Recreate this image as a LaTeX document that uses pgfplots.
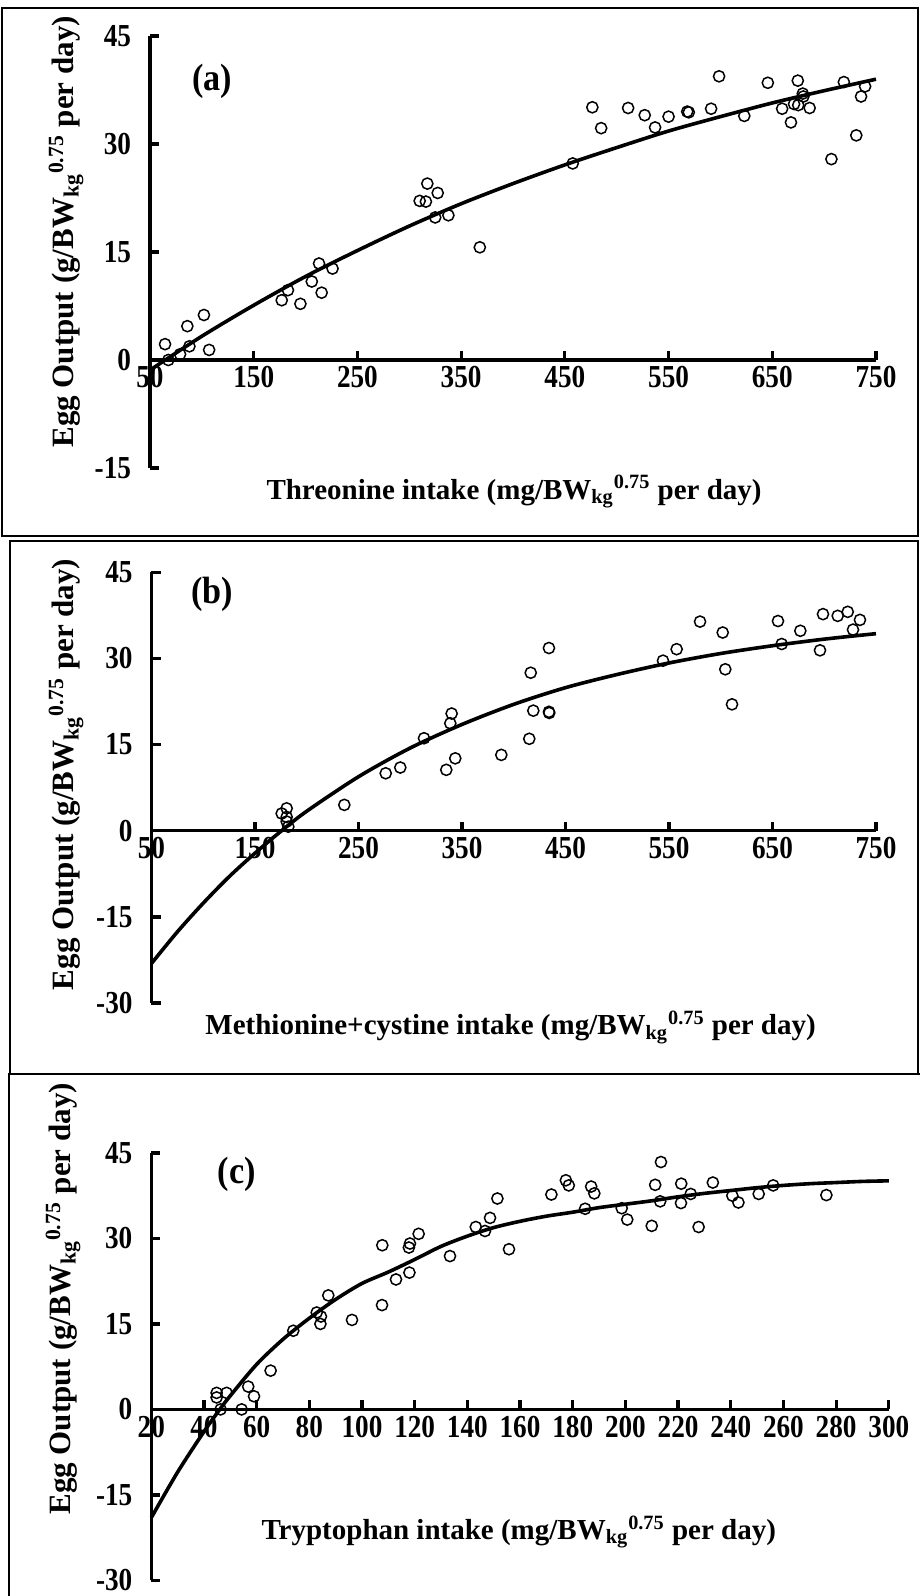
\documentclass[border=0pt]{standalone}
\usepackage{fontspec}
\setmainfont{Liberation Serif}
\newfontfamily\tickfont{Liberation Serif}[FakeStretch=0.85]
\newfontfamily\tagfont{Liberation Serif}[FakeStretch=0.9]
\usepackage{pgfplots}
\pgfplotsset{compat=1.18}
\pgfplotsset{panel/.style={
  scale only axis, clip=false,
  axis x line=middle, axis y line=left,
  axis line style={-, line width=1.6pt},
  every tick/.style={black, line width=1.6pt},
  major tick length=4.5pt,
  tick align=inside,
  hide obscured x ticks=false, hide obscured y ticks=false,
  /pgf/number format/assume math mode=true,
  every tick label/.append style={font=\tickfont\bfseries\fontsize{16}{16}\selectfont},
  yticklabel style={inner sep=1pt, xshift=-8.3pt},
  xticklabel style={inner sep=1pt, yshift=-2pt},
},
pts/.style={only marks, mark=o, mark size=2.8pt, mark options={line width=0.75pt, black}},
fit/.style={no marks, black, line width=1.8pt, smooth}
}
\newcommand{\ylab}{Egg Output (g/BW\textsubscript{kg}\textsuperscript{0.75} per day)}
\begin{document}
\begin{tikzpicture}
\useasboundingbox (0,0) rectangle (460pt,798pt);
% frames
\draw[line width=1pt] (1pt,794pt) rectangle (459pt,530pt);
\draw[line width=1pt] (5pt,527.5pt) rectangle (459pt,261pt);
\draw[line width=1pt] (4.5pt,0pt) -- (4.5pt,261pt) -- (460pt,261pt);
% ---------------- (a)
\begin{axis}[panel, at={(75pt,564pt)}, anchor=south west,
  width=363pt, height=216pt,
  xmin=50, xmax=750, ymin=-15, ymax=45,
  xtick={50,150,...,750}, ytick={-15,0,15,30,45}]
\addplot[pts] coordinates {
(64.5,2.2) (67.7,0.0) (79,0.8) (86,4.7) (88,1.9) (102,6.25) (107,1.4)
(177,8.3) (183,9.7) (195,7.8) (206,10.9) (213,13.4) (215.5,9.35) (226,12.7)
(310,22.1) (316,22.0) (317.4,24.5) (327.4,23.2) (325,19.8) (337.7,20.1) (368,15.65)
(457.6,27.3) (476.5,35.1) (485,32.2) (511,35.0) (527,34.0) (537,32.3) (550,33.8)
(568,34.5) (569.5,34.4) (591,34.9) (598.7,39.4) (623,33.9) (645.7,38.5) (659.5,34.9)
(668,33.0) (674.6,38.8) (671,35.55) (675,35.4) (679.4,37.0) (680,36.6) (686,35.0)
(707,27.9) (719,38.6) (731,31.2) (735.6,36.6) (739.5,38.0)
};
\addplot[fit] coordinates {
(50,-1.4) (100,3.3) (150,7.6) (200,11.6) (250,15.2) (300,18.6) (350,21.7)
(400,24.5) (450,27.1) (500,29.5) (550,31.8) (600,33.8) (650,35.7) (700,37.4) (750,39.0)
};
\node[font=\tagfont\bfseries\fontsize{19}{19}\selectfont] at (axis cs:110,38.7) {(a)};
\node[font=\bfseries\fontsize{14.5}{14.5}\selectfont] at (axis cs:401,-18.3) {Threonine intake (mg/BW\textsubscript{kg}\textsuperscript{0.75} per day)};
\node[rotate=90, font=\bfseries\fontsize{15.5}{15.5}\selectfont] at (axis cs:-31,17.8) {\ylab};
\end{axis}
% ---------------- (b)
\begin{axis}[panel, at={(75.75pt,296.45pt)}, anchor=south west,
  width=362.25pt, height=215.45pt,
  xmin=50, xmax=750, ymin=-30, ymax=45,
  xtick={50,150,...,750}, ytick={-30,-15,0,15,30,45}]
\addplot[pts] coordinates {
(175.8,3.0) (180.6,3.9) (180.6,2.4) (180.6,1.6) (182.2,0.7) (236.3,4.5)
(276.3,10.0) (290.4,11.0) (313.3,16.1) (334.8,10.6) (340,20.4) (338.7,18.7) (343.5,12.6)
(388,13.2) (415,16.0) (416.4,27.5) (418.9,20.9) (434,31.8) (434,20.7) (434.3,20.5)
(544.2,29.6) (557.4,31.6) (580,36.4) (601.9,34.5) (604.4,28.1) (610.9,22.0)
(655.3,36.5) (658.9,32.5) (676.9,34.8) (695.9,31.4) (698.8,37.7) (713,37.4)
(722.7,38.1) (727.8,35.0) (734.5,36.7)
};
\addplot[fit] coordinates {
(50,-23.1) (75,-17.6) (100,-12.6) (125,-8.0) (150,-3.9) (175,-0.1) (200,3.4)
(250,9.4) (300,14.4) (350,18.5) (400,22.0) (450,24.9) (500,27.2) (550,29.2)
(600,30.85) (650,32.2) (700,33.35) (750,34.3)
};
\node[font=\tagfont\bfseries\fontsize{19}{19}\selectfont] at (axis cs:108.5,41.2) {(b)};
\node[font=\bfseries\fontsize{14.5}{14.5}\selectfont] at (axis cs:397,-34.2) {Methionine+cystine intake (mg/BW\textsubscript{kg}\textsuperscript{0.75} per day)};
\node[rotate=90, font=\bfseries\fontsize{15.5}{15.5}\selectfont] at (axis cs:-32.6,9.8) {\ylab};
\end{axis}
% ---------------- (c)
\begin{axis}[panel, at={(75.65pt,7.8pt)}, anchor=south west,
  width=368.75pt, height=213.75pt,
  xmin=20, xmax=300, ymin=-30, ymax=45,
  xtick={20,40,...,300}, ytick={-30,-15,0,15,30,45}]
\addplot[pts] coordinates {
(44.8,2.9) (44.8,2.1) (48.6,2.9) (46.3,0.0) (54.3,0.0) (56.8,4.0) (59.0,2.3)
(65.3,6.8) (73.9,13.8) (82.8,17.0) (84.4,16.3) (84.2,15.0) (87.2,20.0) (96.2,15.7)
(107.6,18.3) (107.7,28.8) (112.9,22.8) (118,24.0) (117.8,28.4) (118.2,29.1) (121.5,30.8)
(133.4,26.9) (143.2,32.0) (146.7,31.3) (148.6,33.6) (151.4,37.0) (155.8,28.1)
(171.9,37.7) (177.4,40.2) (178.5,39.3) (184.7,35.2) (187,39.1) (188.2,37.9)
(198.6,35.3) (200.7,33.3) (210,32.2) (211.3,39.4) (213.2,36.5) (213.5,43.4)
(221.1,36.2) (221.2,39.6) (224.8,37.8) (227.8,32.0) (233.2,39.8) (240.6,37.5)
(242.9,36.3) (250.6,37.8) (256.1,39.3) (276.3,37.6)
};
\addplot[fit] coordinates {
(20,-19.0) (30,-11.0) (40,-3.9) (46,0) (50,2.4) (60,7.9) (70,12.3) (80,16.0)
(90,19.3) (100,22.1) (110,24.1) (120,26.3) (130,28.6) (140,30.4) (150,31.9)
(160,33.0) (170,33.9) (180,34.6) (190,35.4) (200,36.0) (210,36.6) (220,37.3)
(230,37.9) (240,38.4) (250,38.9) (260,39.3) (270,39.6) (280,39.8) (290,40.0) (300,40.1)
};
\node[font=\tagfont\bfseries\fontsize{19}{19}\selectfont] at (axis cs:52.5,41.2) {(c)};
\node[font=\bfseries\fontsize{14.5}{14.5}\selectfont] at (axis cs:159.5,-21.5) {Tryptophan intake (mg/BW\textsubscript{kg}\textsuperscript{0.75} per day)};
\node[rotate=90, font=\bfseries\fontsize{15.5}{15.5}\selectfont] at (axis cs:-13.5,19.4) {\ylab};
\end{axis}
\end{tikzpicture}
\end{document}
